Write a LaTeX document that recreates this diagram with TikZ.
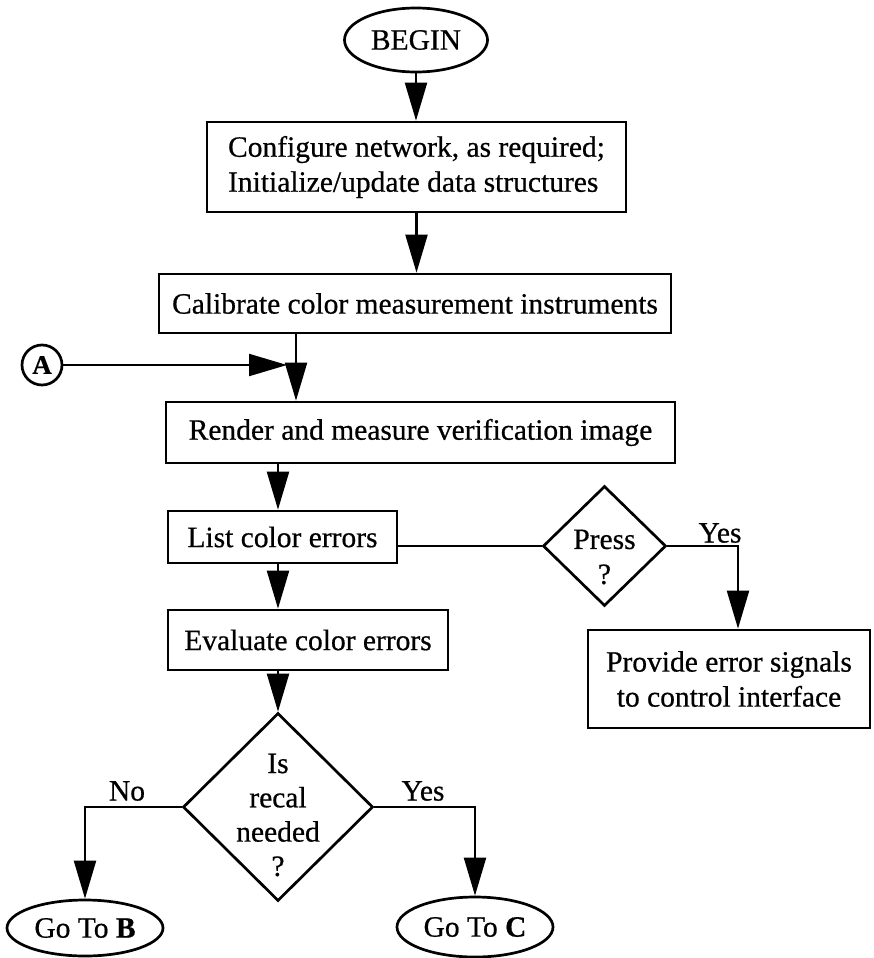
\documentclass[tikz,border=0pt]{standalone}
\usepackage{fontspec}
\setmainfont[FakeBold=0.6]{Liberation Serif}
\usetikzlibrary{shapes.geometric,arrows.meta}

\begin{document}
\begin{tikzpicture}[x=1pt,y=-1pt,
  every node/.style={font=\fontsize{29.5}{35}\selectfont},
  shapeline/.style={draw, line width=2.7pt},
  proc/.style={shapeline, rectangle, inner sep=0pt, align=center},
  term/.style={shapeline, ellipse, inner sep=0pt},
  decide/.style={shapeline, diamond, inner sep=0pt},
  conn/.style={line width=2.2pt},
  arr/.style={conn, -{Triangle[length=38pt,width=22pt]}}
]
\useasboundingbox (0,0) rectangle (873,958);

% main column
\node[term, minimum width=143pt, minimum height=64pt] (begin) at (416,40) {BEGIN};
\node[proc, minimum width=419pt, minimum height=90pt, align=left] (config) at (416.5,167)
  {Configure network, as required;\\Initialize/update data structures};
\node[proc, minimum width=512pt, minimum height=59pt] (calib) at (415,303.5)
  {Calibrate color measurement instruments};
\node[proc, minimum width=509pt, minimum height=61pt] (render) at (420.5,432.5)
  {Render and measure verification image};
\node[proc, minimum width=229pt, minimum height=52pt] (list) at (282.5,537) {List color errors};
\node[proc, minimum width=280pt, minimum height=60pt] (eval) at (308,640) {Evaluate color errors};

% press branch
\node[decide, minimum width=123pt, minimum height=120pt,
  label={[yshift=-11pt, align=center]center:Press\\?}] (press) at (604.5,546) {};
\node[proc, minimum width=282pt, minimum height=98pt] (signal) at (729,679)
  {Provide error signals\\to control interface};

% recalibration decision
\node[decide, minimum width=190pt, minimum height=188pt,
  label={[yshift=-8pt, align=center, font=\fontsize{29.5}{34.3}\selectfont]center:Is\\recal\\needed\\?}]
  (recal) at (278,807) {};
\node[term, minimum width=156pt, minimum height=56pt] (gotob) at (85,928) {Go To \textbf{B}};
\node[term, minimum width=156pt, minimum height=60pt] (gotoc) at (475,927) {Go To \textbf{C}};

% entry connector A
\node[shapeline, circle, minimum size=40pt, inner sep=0pt,
  font=\fontsize{27}{30}\selectfont\bfseries] (A) at (42,365) {A};

% routing points
\coordinate (join) at (296,365);
\coordinate (spine) at (278,0);
\coordinate (pressturn) at (738,546);

% connectors
\draw[arr] (begin.south) -- (begin.south |- config.north);
\draw[arr] (config.south) -- (config.south |- calib.north);
\draw[arr] (join |- calib.south) -- (join |- render.north);
\draw[arr, shorten >=9pt] (A.east) -- (join);
\draw[arr] (spine |- render.south) -- (spine |- list.north);
\draw[arr] (spine |- list.south) -- (spine |- eval.north);
\draw[arr] (spine |- eval.south) -- (recal.north);
\draw[conn] (list.east |- press.west) -- (press.west);
\draw[arr] (press.east) -- (pressturn) -- (pressturn |- signal.north);
\draw[arr] (recal.west) -| (gotob.north);
\draw[arr] (recal.east) -| (gotoc.north);

% branch labels
\node (yespress) at (720,533) {Yes};
\node (no) at (127,791) {No};
\node (yesrecal) at (423,791) {Yes};
\end{tikzpicture}
\end{document}
